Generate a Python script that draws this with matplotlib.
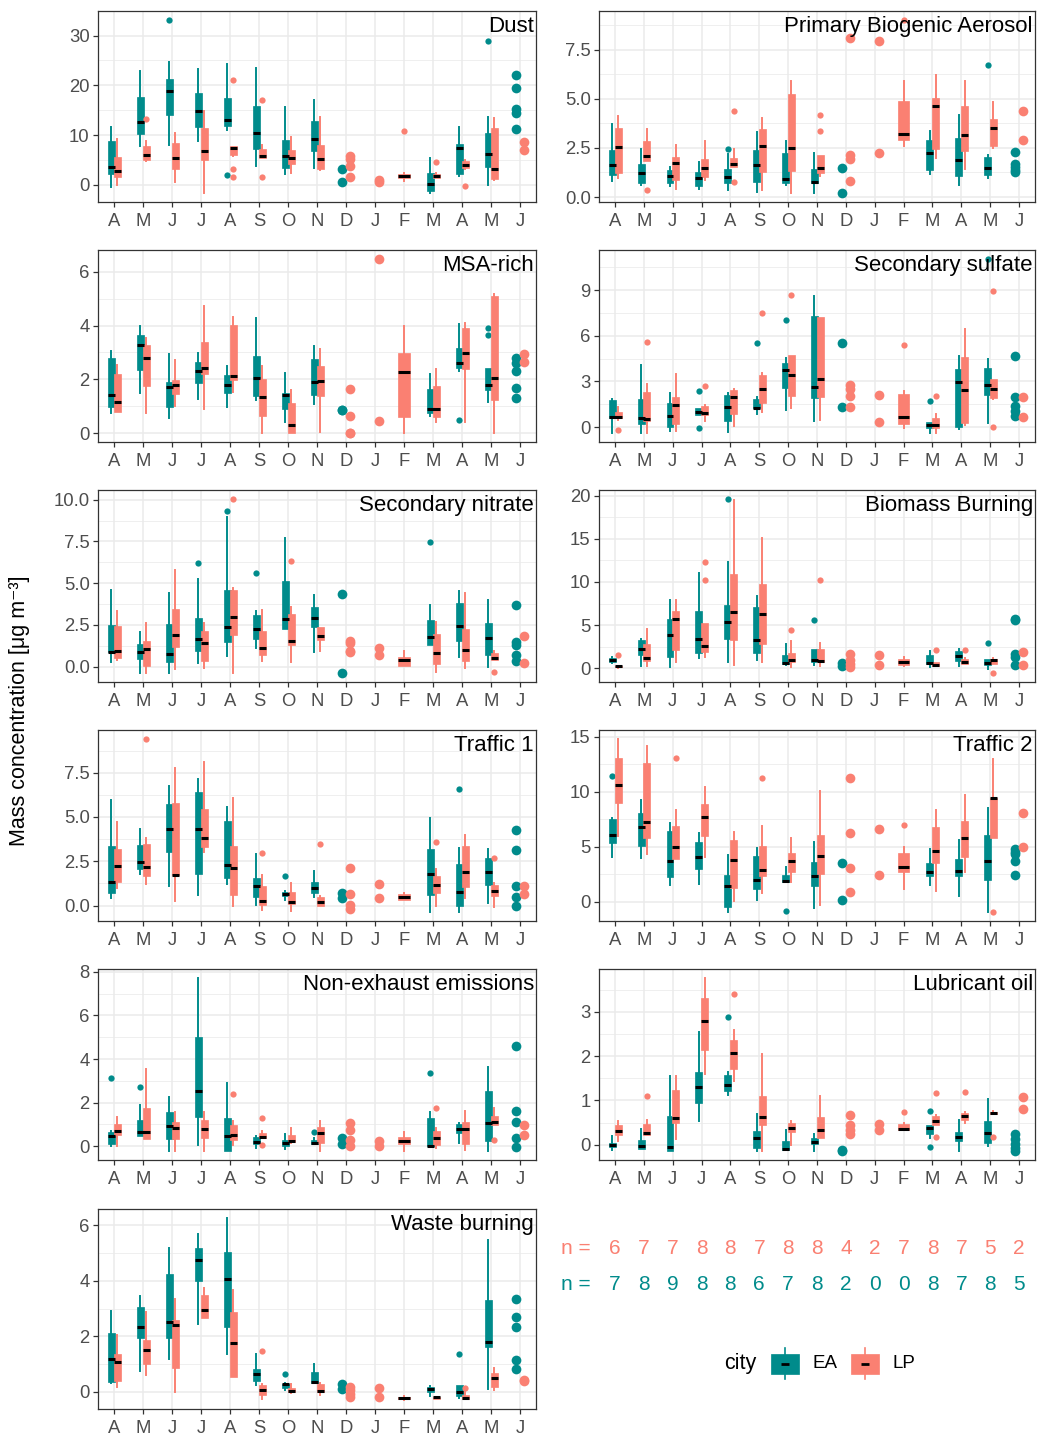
import matplotlib
matplotlib.use("Agg")
import matplotlib.pyplot as plt
from matplotlib.patches import Rectangle
from matplotlib.ticker import MultipleLocator, FormatStrFormatter

plt.rcParams['font.family'] = ['Liberation Sans', 'DejaVu Sans']

EA_COLOR = '#008B8B'
LP_COLOR = '#FA8072'

MONTHS = ['A', 'M', 'J', 'J', 'A', 'S', 'O', 'N', 'D', 'J', 'F', 'M', 'A', 'M', 'J']
N_LP = [6, 7, 7, 8, 8, 7, 8, 8, 4, 2, 7, 8, 7, 5, 2]
N_EA = [7, 8, 9, 8, 8, 6, 7, 8, 2, 0, 0, 8, 7, 8, 5]

# each month: (lo, q1, med, q3, hi[, outliers]) -> boxplot, [values] -> points, None -> no data
dust_ea = [(-0.5, 2.2, 3.6, 8.9, 11.6), (7.8, 10.3, 12.6, 17.6, 22.8), (8.1, 14.1, 18.8, 21.3, 24.7, [33.2]),
           (8.8, 11.7, 14.8, 18.4, 23.3), (11.1, 11.8, 13.0, 17.5, 24.2, [1.9]), (3.8, 7.3, 10.4, 15.9, 23.5),
           (2.1, 3.4, 5.8, 9.0, 15.7), (3.3, 6.8, 9.2, 12.9, 17.0), [3.2, 0.5], None, None,
           (-1.6, -1.3, 0.1, 2.3, 5.3), (1.7, 2.1, 7.4, 8.2, 11.7), (0.0, 3.6, 6.2, 10.4, 13.7, [29.0]),
           [22.0, 19.5, 15.3, 14.5, 11.3]]
dust_lp = [(0.0, 1.5, 2.8, 5.6, 9.2), (4.8, 5.0, 6.0, 7.9, 8.8, [13.3]), (0.6, 3.1, 5.4, 8.4, 10.4),
           (-1.7, 4.9, 6.8, 11.5, 14.9), (5.8, 6.0, 7.5, 7.8, 7.8, [21.0, 3.2, 1.6]),
           (5.3, 5.3, 5.8, 7.2, 8.1, [17.1, 1.5]), (2.3, 4.2, 5.3, 7.0, 9.6), (2.9, 3.2, 5.2, 8.0, 13.7),
           [5.8, 5.2, 3.8, 1.5], [1.0, 0.6], (0.7, 1.4, 1.7, 2.1, 2.4, [10.8]), (1.4, 1.4, 1.7, 2.1, 2.4, [4.5]),
           (3.1, 3.3, 4.0, 4.8, 5.0, [-0.3]), (0.9, 1.1, 3.1, 11.4, 13.5), [8.6, 7.1]]

pba_ea = [(0.80, 1.10, 1.63, 2.41, 3.72), (0.59, 0.71, 1.22, 1.68, 2.46), (0.58, 0.71, 1.05, 1.36, 1.54),
          (0.41, 0.54, 0.95, 1.26, 1.78), (0.37, 0.71, 1.02, 1.44, 2.19, [2.43]), (0.24, 0.76, 1.63, 2.38, 3.29),
          (0.63, 0.71, 0.92, 2.24, 2.87), (0.20, 0.74, 0.76, 1.41, 2.24), [1.49, 0.19], None, None,
          (1.19, 1.39, 2.24, 2.90, 3.34), (0.63, 1.05, 1.87, 2.99, 4.19), (0.97, 1.10, 1.46, 2.02, 2.12, [6.72]),
          [2.29, 1.68, 1.52, 1.40, 1.28]]
pba_lp = [(0.97, 1.22, 2.53, 3.51, 4.14), (1.82, 1.85, 2.11, 2.87, 3.46, [0.37]), (0.41, 0.85, 1.75, 2.02, 2.67),
          (0.85, 1.02, 1.49, 1.94, 2.84), (1.51, 1.51, 1.66, 1.99, 2.46, [4.40, 0.75]),
          (0.37, 1.27, 2.60, 3.45, 4.02), (0.20, 1.31, 2.51, 5.25, 5.91),
          (1.05, 1.22, 1.49, 2.12, 2.12, [4.19, 3.38]), [8.12, 2.16, 1.94, 0.83], [7.93, 2.24],
          (2.61, 2.90, 3.19, 4.91, 5.93, [9.03]), (1.99, 2.46, 4.62, 5.04, 6.23), (1.43, 2.33, 3.16, 4.62, 5.93),
          (2.50, 2.58, 3.50, 3.99, 4.82), [4.40, 2.89]]

msa_ea = [(0.75, 0.99, 1.42, 2.80, 3.04), (1.49, 2.36, 3.29, 3.66, 4.0), (0.58, 0.99, 1.73, 1.90, 2.94),
          (1.28, 1.86, 2.31, 2.65, 2.97), (0.96, 1.49, 1.79, 2.17, 2.48), (1.22, 1.40, 2.07, 2.86, 4.29),
          (0.41, 0.89, 1.43, 1.49, 2.24), (1.08, 1.43, 1.90, 2.77, 3.23), [0.87, 0.85], None, None,
          (0.63, 0.75, 0.91, 1.64, 2.20), (2.32, 2.42, 2.60, 3.17, 4.07, [0.50]),
          (1.16, 1.59, 1.79, 2.42, 2.42, [3.89, 3.66]), [2.78, 2.62, 2.33, 1.68, 1.30]]
msa_lp = [(0.78, 0.78, 1.16, 2.19, 2.52), (0.75, 1.74, 2.80, 3.29, 3.54), (1.03, 1.47, 1.78, 1.99, 2.71),
          (0.91, 2.20, 2.41, 3.38, 4.72), (1.54, 1.98, 2.11, 4.02, 4.31), (0.0, 0.65, 1.33, 2.0, 2.48),
          (0.0, 0.0, 0.31, 1.11, 1.59), (0.04, 1.40, 1.93, 2.51, 3.14), [1.65, 0.63, 0.02, 0.0], [6.48, 0.46],
          (0.0, 0.60, 2.29, 2.98, 3.98), (0.41, 0.60, 0.89, 1.74, 2.40), (0.40, 2.40, 2.98, 3.91, 4.11),
          (0.0, 1.24, 2.05, 5.09, 5.16), [2.96, 2.66]]

sulf_ea = [(-0.41, 0.57, 0.68, 1.76, 1.87), (-0.41, 0.20, 0.61, 1.83, 4.05), (-0.26, 0.02, 0.70, 1.61, 2.27),
           (0.78, 0.78, 1.00, 1.22, 1.26, [2.35, -0.04]), (-0.35, 0.39, 1.31, 2.09, 2.24),
           (0.83, 1.22, 1.26, 1.87, 1.98, [5.51]), (1.11, 2.59, 3.77, 4.23, 4.55, [7.04]),
           (0.39, 1.94, 2.64, 7.32, 8.63), [5.51, 1.31], None, None, (-0.37, -0.09, 0.13, 0.35, 0.35, [1.74]),
           (-0.13, 0.02, 2.96, 3.79, 4.64), (0.24, 2.14, 2.79, 3.88, 4.49, [11.07]),
           [4.64, 1.98, 1.37, 1.05, 0.74]]
sulf_lp = [(0.46, 0.57, 0.68, 1.00, 1.33, [-0.20]), (-0.41, 0.39, 0.52, 2.31, 2.85, [5.58]),
           (-0.26, 0.20, 1.46, 1.98, 3.51), (0.41, 0.78, 0.94, 1.37, 1.44, [2.70]), (0.09, 0.89, 1.98, 2.42, 2.53),
           (1.00, 1.59, 2.53, 3.40, 3.57, [7.47]), (1.26, 2.03, 3.40, 4.71, 4.71, [8.69]),
           (0.48, 1.98, 3.18, 7.21, 7.21), [2.79, 2.48, 2.05, 1.35], [2.14, 0.35],
           (-0.09, 0.20, 0.68, 2.20, 2.35, [5.40]), (-0.37, -0.09, 0.13, 0.61, 0.89, [2.03]),
           (0.13, 0.24, 2.46, 4.60, 6.45), (1.87, 1.92, 2.53, 3.18, 3.18, [8.93, 0.02]), [1.98, 0.65]]

nitr_ea = [(0.26, 0.86, 0.86, 2.47, 4.58), (-0.40, 0.46, 0.90, 1.37, 2.07), (-0.38, 0.26, 0.78, 2.57, 4.42),
           (0.20, 0.92, 1.67, 2.91, 5.22, [6.22]), (0.62, 1.47, 2.39, 4.62, 8.94, [9.30]),
           (1.12, 1.67, 2.23, 3.11, 3.33, [5.62]), (2.27, 2.27, 2.87, 5.12, 7.73), (0.86, 2.37, 2.91, 3.57, 4.28),
           [4.34, -0.40], None, None, (1.27, 1.27, 1.77, 2.77, 3.67, [7.45]), (0.60, 1.51, 2.43, 3.82, 4.56),
           (0.0, 0.70, 1.73, 2.63, 3.98), [3.71, 1.47, 1.27, 0.70, 0.32]]
nitr_lp = [(0.42, 0.52, 0.92, 2.41, 3.35), (-0.40, 0.06, 1.06, 1.51, 2.63), (-0.14, 1.16, 1.87, 3.47, 5.78),
           (-0.08, 0.32, 1.39, 2.15, 2.63), (-0.40, 1.91, 2.97, 4.62, 4.72, [10.06]),
           (0.32, 0.70, 1.10, 2.15, 3.37), (0.26, 1.27, 1.53, 3.17, 3.57, [6.35]),
           (0.92, 1.57, 1.81, 2.35, 2.37), [1.51, 1.40, 0.95, 0.85], [1.10, 0.70], (0.06, 0.06, 0.42, 0.56, 0.92),
           (-0.30, 0.16, 0.80, 1.93, 2.67), (-0.10, 0.36, 1.02, 2.27, 4.42), (0.40, 0.40, 0.50, 0.80, 0.96, [-0.30]),
           [1.81, 0.20]]

bio_ea = [(0.62, 0.70, 0.97, 1.17, 1.28), (0.31, 1.48, 2.25, 3.22, 3.34), (0.12, 1.28, 3.81, 5.75, 7.96),
          (1.17, 1.79, 3.34, 6.64, 11.07), (0.70, 3.42, 5.36, 7.30, 12.27, [19.65]), (1.01, 1.79, 3.22, 7.11, 8.35),
          (0.39, 0.50, 0.62, 1.55, 2.83), (0.39, 0.70, 1.01, 2.25, 2.25, [5.63]), [0.58, 0.31], None, None,
          (0.12, 0.50, 0.58, 1.48, 1.98), (0.23, 0.89, 1.40, 1.98, 2.25), (-0.08, 0.43, 0.62, 1.09, 1.09, [2.91]),
          [5.75, 5.6, 1.67, 1.28, 0.43]]
bio_lp = [(0.0, 0.12, 0.31, 0.31, 0.31, [1.48]), (0.31, 0.89, 1.24, 2.83, 4.50), (0.70, 2.17, 5.75, 6.60, 7.88),
          (1.28, 1.94, 2.60, 5.24, 5.28, [12.35, 10.21]), (0.39, 3.22, 6.52, 10.87, 19.53),
          (0.78, 2.83, 6.25, 9.75, 15.07), (0.12, 0.78, 1.01, 1.79, 3.15, [4.39]),
          (0.31, 0.70, 0.89, 2.25, 2.95, [10.21]), [1.67, 1.01, 0.50, 0.12], [1.48, 0.43],
          (0.31, 0.43, 0.78, 1.09, 1.28), (0.31, 0.31, 0.43, 0.70, 0.78, [2.14]),
          (0.50, 0.50, 0.78, 1.09, 1.17, [2.17]), (0.50, 0.50, 1.01, 1.09, 1.17, [-0.58]), [1.94, 0.43]]

tr1_ea = [(0.43, 0.72, 1.32, 3.35, 5.94), (1.81, 2.07, 2.45, 3.41, 4.30), (1.13, 3.01, 4.35, 5.71, 6.75),
          (0.57, 1.81, 4.33, 6.41, 7.16), (1.22, 1.56, 2.28, 4.80, 5.56), (0.06, 0.49, 1.13, 1.53, 2.92),
          (0.30, 0.53, 0.66, 0.75, 0.81, [1.66]), (0.49, 0.72, 1.00, 1.32, 1.94), [0.72, 0.43], None, None,
          (-0.38, 0.62, 1.81, 3.17, 4.92), (-0.38, -0.04, 0.77, 2.37, 3.26, [6.60]), (0.15, 1.19, 1.88, 2.66, 3.20),
          [4.24, 3.11, 1.13, 0.49, 0.0]]
tr1_lp = [(1.00, 1.32, 2.26, 3.20, 4.71), (1.24, 1.66, 2.17, 3.50, 3.83, [9.42]), (0.28, 1.75, 1.75, 5.78, 7.74),
          (3.01, 3.32, 3.81, 5.46, 8.10), (0.0, 0.57, 2.13, 3.35, 6.09), (-0.23, 0.06, 0.24, 1.13, 1.71, [2.98]),
          (-0.28, 0.11, 0.19, 0.75, 1.28), (0.0, 0.0, 0.21, 0.49, 0.53, [3.50]), [2.13, 0.68, 0.06, -0.17],
          [1.21, 0.43], (0.30, 0.34, 0.49, 0.66, 0.72), (0.0, 0.72, 1.19, 1.66, 2.09, [3.58]),
          (0.43, 1.06, 1.90, 3.35, 3.98), (-0.08, 0.53, 0.85, 1.19, 1.28, [2.69]), [1.13, 0.68]]

tr2_ea = [(4.02, 5.32, 6.08, 7.50, 7.65, [11.43]), (3.93, 5.08, 6.83, 8.04, 9.22), (1.54, 2.21, 3.66, 6.44, 7.14),
          (1.60, 2.96, 4.02, 5.44, 6.20), (-0.97, -0.51, 1.45, 2.45, 4.23), (0.15, 1.15, 1.97, 4.17, 4.87),
          (1.75, 1.75, 1.84, 2.45, 3.11, [-0.82]), (-0.57, 1.45, 2.30, 3.57, 5.47), [3.48, 0.15], None, None,
          (1.54, 2.36, 2.72, 3.48, 4.78), (0.54, 2.30, 2.75, 3.87, 5.62), (-0.91, 2.00, 3.72, 6.05, 8.50),
          [4.78, 4.5, 4.3, 3.72, 2.42]]
tr2_lp = [(5.99, 9.01, 10.58, 13.09, 14.82), (4.32, 5.75, 7.20, 12.64, 14.15),
          (3.87, 3.87, 4.99, 6.89, 8.32, [13.03]), (4.02, 5.99, 7.71, 8.92, 10.46), (0.03, 1.24, 3.78, 5.62, 6.35),
          (0.79, 2.30, 2.90, 5.08, 6.89, [11.28]), (1.81, 2.66, 3.66, 4.41, 5.78), (-0.30, 2.51, 4.11, 6.05, 10.07),
          [11.28, 6.23, 3.02, 0.91], [6.59, 2.45], (1.15, 2.72, 3.11, 4.41, 4.93, [6.99]),
          (1.0, 3.48, 4.63, 6.83, 8.32), (2.72, 4.02, 5.75, 7.35, 9.68), (5.75, 5.75, 9.40, 9.46, 13.0, [-0.97]),
          [8.10, 4.93]]

nex_ea = [(0.0, 0.11, 0.45, 0.65, 0.68, [3.14]), (0.45, 0.45, 0.65, 1.21, 1.89, [2.71]),
          (-0.20, 0.33, 0.95, 1.59, 2.27), (0.08, 1.36, 2.55, 5.0, 7.73), (-0.23, -0.23, 0.48, 1.29, 2.92),
          (-0.08, 0.11, 0.20, 0.42, 0.45), (-0.12, 0.03, 0.15, 0.30, 0.56), (0.11, 0.11, 0.15, 0.30, 0.38, [0.64]),
          [0.38, 0.11], None, None, (0.0, 0.0, 0.03, 1.32, 1.59, [3.38]), (0.15, 0.61, 0.80, 1.02, 1.09),
          (-0.20, 0.23, 1.06, 2.53, 3.64), [4.59, 1.64, 1.12, 0.38, -0.03]]
nex_lp = [(0.03, 0.53, 0.68, 1.02, 1.36), (0.33, 0.33, 0.64, 1.77, 3.56), (-0.20, 0.33, 0.86, 1.11, 1.59),
          (-0.20, 0.38, 0.80, 1.21, 1.59), (0.08, 0.27, 0.53, 0.98, 1.17, [2.38]),
          (0.38, 0.38, 0.42, 0.61, 0.71, [1.32, 0.08]), (0.15, 0.18, 0.23, 0.53, 0.83),
          (-0.20, 0.15, 0.61, 0.88, 1.14), [1.06, 0.76, 0.30, 0.0], [0.23, 0.03], (-0.20, 0.11, 0.23, 0.41, 0.64),
          (-0.08, 0.08, 0.38, 0.68, 0.83, [1.77]), (-0.18, 0.11, 0.80, 1.11, 1.64),
          (0.98, 0.98, 1.12, 1.39, 1.74, [0.30]), [0.98, 0.52]]

lub_ea = [(-0.11, -0.06, 0.0, 0.04, 0.19), (-0.10, -0.10, -0.04, 0.11, 0.35), (-0.14, -0.14, -0.05, 0.64, 1.54),
          (0.53, 0.94, 1.31, 1.63, 2.55), (1.13, 1.22, 1.35, 1.58, 1.63, [2.89]), (-0.14, -0.08, 0.15, 0.30, 0.69),
          (-0.12, -0.12, -0.09, 0.09, 0.34), (-0.14, 0.02, 0.05, 0.15, 0.25), [-0.12, -0.14], None, None,
          (0.14, 0.25, 0.38, 0.44, 0.45, [0.77, -0.06]), (-0.14, 0.08, 0.17, 0.29, 0.56),
          (-0.02, 0.04, 0.26, 0.54, 1.04), [0.23, 0.13, 0.02, -0.08, -0.15]]
lub_lp = [(0.08, 0.21, 0.30, 0.44, 0.53), (0.21, 0.21, 0.26, 0.47, 0.56, [1.11]), (0.13, 0.49, 0.60, 1.24, 1.54),
          (1.59, 2.14, 2.79, 3.32, 3.77), (1.44, 1.71, 2.08, 2.36, 2.59, [3.40]), (-0.14, 0.45, 0.62, 1.11, 2.04),
          (0.0, 0.29, 0.38, 0.50, 0.54), (0.15, 0.15, 0.34, 0.62, 1.09), [0.68, 0.45, 0.34, 0.24], [0.47, 0.34],
          (0.32, 0.32, 0.35, 0.47, 0.49, [0.74]), (0.45, 0.45, 0.54, 0.64, 0.66, [1.16, 0.17]),
          (0.49, 0.56, 0.65, 0.71, 0.74, [1.20]), (0.69, 0.70, 0.71, 0.74, 0.75, [0.17]), [1.07, 0.80]]

waste_ea = [(0.33, 0.37, 1.20, 2.12, 2.93), (0.76, 1.94, 2.33, 3.05, 3.46), (1.20, 1.94, 2.51, 4.24, 5.19),
            (2.45, 3.98, 4.74, 5.19, 5.70), (1.36, 2.33, 4.06, 5.04, 6.26), (0.23, 0.39, 0.63, 0.81, 1.36),
            (0.05, 0.13, 0.29, 0.29, 0.31, [0.64]), (0.31, 0.31, 0.37, 0.70, 1.02), [0.28, 0.12], None, None,
            (-0.14, 0.01, 0.11, 0.17, 0.21), (-0.23, -0.14, -0.01, 0.23, 0.25, [1.36]),
            (0.11, 1.62, 1.80, 3.32, 5.46), [3.35, 2.69, 2.33, 1.14, 0.82]]
waste_lp = [(0.17, 0.39, 1.06, 1.38, 2.04), (0.61, 1.0, 1.52, 1.88, 2.87), (0.01, 0.87, 2.42, 2.60, 3.35),
            (2.65, 2.65, 2.96, 3.50, 3.73), (0.52, 0.52, 1.76, 2.87, 3.68),
            (-0.25, -0.11, 0.07, 0.25, 0.27, [1.46]), (-0.05, -0.01, 0.04, 0.13, 0.29),
            (-0.11, -0.01, 0.04, 0.29, 0.33), [0.19, 0.07, -0.08, -0.17], [0.15, -0.17],
            (-0.29, -0.26, -0.23, -0.17, -0.14), (-0.25, -0.25, -0.20, -0.20, -0.19),
            (-0.26, -0.26, -0.23, -0.11, 0.11, [0.15]), (0.07, 0.19, 0.49, 0.67, 0.85), [0.43, 0.39]]

PANELS = [
    ('Dust', dust_ea, dust_lp, 10, '%d'),
    ('Primary Biogenic Aerosol', pba_ea, pba_lp, 2.5, '%.1f'),
    ('MSA-rich', msa_ea, msa_lp, 2, '%d'),
    ('Secondary sulfate', sulf_ea, sulf_lp, 3, '%d'),
    ('Secondary nitrate', nitr_ea, nitr_lp, 2.5, '%.1f'),
    ('Biomass Burning', bio_ea, bio_lp, 5, '%d'),
    ('Traffic 1', tr1_ea, tr1_lp, 2.5, '%.1f'),
    ('Traffic 2', tr2_ea, tr2_lp, 5, '%d'),
    ('Non-exhaust emissions', nex_ea, nex_lp, 2, '%d'),
    ('Lubricant oil', lub_ea, lub_lp, 1, '%d'),
    ('Waste burning', waste_ea, waste_lp, 2, '%d'),
]

W, H = 1037, 1438
COL_X = [(98, 536), (599, 1035)]
ROW_Y = [(11, 202), (250, 442), (490, 682), (730, 921), (969, 1160), (1209, 1409)]
XLIM = (0.45, 15.55)

BOX_W = 0.24
SOLO_W = 0.4
BOX_OFF = {'EA': -0.09, 'LP': 0.11}
PT_OFF = {'EA': -0.13, 'LP': 0.13}


def px_axes(fig, x0, x1, y0, y1):
    return fig.add_axes([x0 / W, 1 - y1 / H, (x1 - x0) / W, (y1 - y0) / H])


def all_values(entries):
    vals = []
    for e in entries:
        if e is None:
            continue
        if isinstance(e, list):
            vals += e
        else:
            vals += list(e[:5])
            if len(e) > 5:
                vals += e[5]
    return vals


def draw_city(ax, entries, other, city, color):
    for i, e in enumerate(entries):
        if e is None:
            continue
        x = i + 1
        if isinstance(e, list):
            ax.plot([x + PT_OFF[city]] * len(e), e, 'o', color=color, markersize=7,
                    markeredgewidth=0, zorder=4, clip_on=False)
            continue
        solo = other[i] is None
        pos = x if solo else x + BOX_OFF[city]
        width = SOLO_W if solo else BOX_W
        lo, q1, med, q3, hi = e[:5]
        out = e[5] if len(e) > 5 else []
        ax.bxp([dict(whislo=lo, q1=q1, med=med, q3=q3, whishi=hi, fliers=out)],
               positions=[pos], widths=width, patch_artist=True, showcaps=False, manage_ticks=False,
               boxprops=dict(facecolor=color, edgecolor=color, linewidth=0.5),
               whiskerprops=dict(color=color, linewidth=1.4),
               medianprops=dict(color='black', linewidth=2.2, solid_capstyle='butt'),
               flierprops=dict(marker='o', markersize=4.5, markerfacecolor=color, markeredgecolor='none'),
               zorder=3)


def style_axes(ax, step, fmt):
    ax.set_xlim(*XLIM)
    ax.set_xticks(range(1, 16))
    ax.set_xticklabels(MONTHS)
    ax.yaxis.set_major_locator(MultipleLocator(step))
    ax.yaxis.set_minor_locator(MultipleLocator(step / 2))
    ax.yaxis.set_major_formatter(FormatStrFormatter(fmt))
    ax.grid(True, which='major', color='#EBEBEB', linewidth=1.1, zorder=0)
    ax.grid(True, which='minor', axis='y', color='#EBEBEB', linewidth=0.55, zorder=0)
    ax.set_axisbelow(True)
    ax.tick_params(axis='both', which='major', length=3.5, width=0.9, color='#333333',
                   labelcolor='#4D4D4D', labelsize=13.3)
    ax.tick_params(axis='x', which='major', pad=4.5)
    ax.tick_params(axis='y', which='major', pad=2.5)
    ax.tick_params(axis='y', which='minor', length=0)
    for s in ax.spines.values():
        s.set_color('#333333')
        s.set_linewidth(0.9)


fig = plt.figure(figsize=(W / 100, H / 100), dpi=100)

for k, (title, ea, lp, step, fmt) in enumerate(PANELS):
    row, col = divmod(k, 2)
    x0, x1 = COL_X[col]
    y0, y1 = ROW_Y[row]
    ax = px_axes(fig, x0, x1, y0, y1)
    draw_city(ax, ea, lp, 'EA', EA_COLOR)
    draw_city(ax, lp, ea, 'LP', LP_COLOR)
    vals = all_values(ea) + all_values(lp)
    lo, hi = min(vals), max(vals)
    pad = (hi - lo) * 0.05
    ax.set_ylim(lo - pad, hi + pad)
    style_axes(ax, step, fmt)
    ax.text(0.995, 0.975, title, transform=ax.transAxes, ha='right', va='top',
            fontsize=16, color='black', zorder=6)

fig.text(20 / W, 1 - 711 / H, 'Mass concentration [μg m⁻³]', rotation=90,
         ha='center', va='center', fontsize=15.5)

# sample counts
nax = px_axes(fig, COL_X[1][0], COL_X[1][1], 1225, 1305)
nax.set_xlim(*XLIM)
nax.set_ylim(1305, 1225)
nax.axis('off')
nax.text(0.17, 1249, 'n =', ha='right', va='center', fontsize=15, color=LP_COLOR)
nax.text(0.17, 1284, 'n =', ha='right', va='center', fontsize=15, color=EA_COLOR)
for i in range(15):
    nax.text(i + 1, 1249, str(N_LP[i]), ha='center', va='center', fontsize=15, color=LP_COLOR)
    nax.text(i + 1, 1284, str(N_EA[i]), ha='center', va='center', fontsize=15, color=EA_COLOR)

# legend
lax = px_axes(fig, 0, W, 0, H)
lax.set_xlim(0, W)
lax.set_ylim(H, 0)
lax.axis('off')
lax.text(740, 1364, 'city', ha='center', va='center', fontsize=15.5)
for xk, label, color in [(771, 'EA', EA_COLOR), (851, 'LP', LP_COLOR)]:
    lax.plot([xk + 14, xk + 14], [1348, 1379], color=color, linewidth=1.2)
    lax.add_patch(Rectangle((xk, 1354), 28, 20, facecolor=color, edgecolor=color, linewidth=0.5))
    lax.plot([xk + 10, xk + 18], [1364, 1364], color='black', linewidth=2.0, solid_capstyle='butt')
    lax.text(xk + 42, 1364, label, ha='left', va='center', fontsize=13.5)

fig.savefig('out.png', dpi=100)
